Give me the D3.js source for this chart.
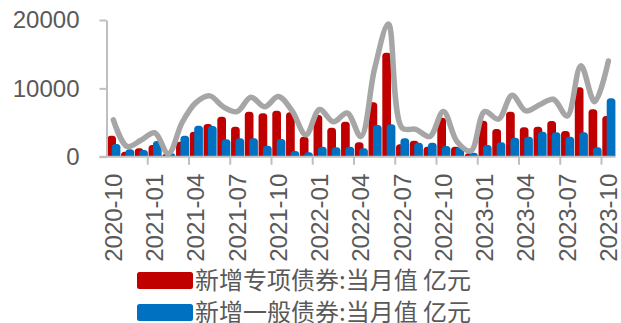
<!DOCTYPE html>
<html>
<head>
<meta charset="utf-8">
<script src="https://cdn.jsdelivr.net/npm/d3@7"></script>
<style>
    html, body { margin: 0; padding: 0; background: #fff; }
    svg { display: block; }
    text { font-family: "Liberation Sans", Arial, sans-serif; fill: #595959; }
    .legend-text { font-family: "Noto Sans CJK SC", "Noto Sans", sans-serif; }
</style>
</head>
<body>
<div id="chart"></div>
<script>
'use strict';

// months on the x axis
const MONTHS = [
    '2020-10', '2020-11', '2020-12',
    '2021-01', '2021-02', '2021-03', '2021-04', '2021-05', '2021-06',
    '2021-07', '2021-08', '2021-09', '2021-10', '2021-11', '2021-12',
    '2022-01', '2022-02', '2022-03', '2022-04', '2022-05', '2022-06',
    '2022-07', '2022-08', '2022-09', '2022-10', '2022-11', '2022-12',
    '2023-01', '2023-02', '2023-03', '2023-04', '2023-05', '2023-06',
    '2023-07', '2023-08', '2023-09', '2023-10'
];

// 新增专项债券 (red), 亿元
const SPECIAL = [
    3070, 730, 1230,
    1710, 390, 2200, 3660, 4780, 5850,
    4390, 6580, 6350, 6730, 6500, 2930,
    6100, 4240, 5120, 2100, 7960, 15220,
    1810, 2340, 1460, 5710, 1460, 490,
    5270, 4050, 6580, 4300, 4390, 5220,
    3760, 10150, 6930, 5950
];

// 新增一般债券 (blue), 亿元
const GENERAL = [
    1860, 1100, 980,
    2300, 490, 3070, 4540, 4490, 2540,
    2690, 2690, 1610, 2590, 830, 640,
    1460, 1370, 1460, 1230, 4640, 4740,
    2690, 2050, 2050, 1560, 1370, 590,
    1710, 2100, 2780, 2930, 3660, 3570,
    2930, 3570, 1370, 8540
];

// grey line (total new issuance), 亿元
const TOTAL = [
    5400, 1500, 2400,
    3500, 450, 5000, 7900, 8900, 7300,
    6600, 8700, 7300, 8800, 6700, 3200,
    6900, 5100, 6400, 2950, 12900, 19400,
    4200, 4000, 2950, 6600, 2200, 850,
    6600, 5500, 9000, 6700, 7600, 8400,
    5950, 13300, 8050, 14000
];

const Y_TICKS = [0, 10000, 20000];
const X_LABELS = MONTHS.filter((m, i) => i % 3 === 0);

const LEGEND = [
    { name: '新增专项债券:当月值 亿元', color: '#C00000' },
    { name: '新增一般债券:当月值 亿元', color: '#0070C0' }
];

const W = 621;
const H = 323;
const PLOT = { left: 106.5, right: 615.25, top: 20, bottom: 156.7 };

//#region HELPERS
// bar with rounded top corners
function roundTopBar(x, y, w, h, r) {
    r = Math.min(r, h, w / 2);
    if (h <= 0) return '';
    return `M${x},${y + h}V${y + r}Q${x},${y} ${x + r},${y}` +
        `H${x + w - r}Q${x + w},${y} ${x + w},${y + r}V${y + h}Z`;
}
//#endregion

function drawChart() {
    const svg = d3.select('#chart')
        .append('svg')
        .attr('width', W)
        .attr('height', H);

    svg.append('rect')
        .attr('width', W)
        .attr('height', H)
        .attr('fill', '#fff');

    const x = d3.scaleBand()
        .domain(MONTHS)
        .range([PLOT.left, PLOT.right])
        .padding(0);

    const y = d3.scaleLinear()
        .domain([0, 20000])
        .range([PLOT.bottom, PLOT.top]);

    const bw = x.bandwidth();
    const barW = 8.7;

    // red bars first, blue ones overlap them on the right
    svg.append('g')
        .selectAll('path')
        .data(SPECIAL)
        .enter()
        .append('path')
        .attr('d', (d, i) => roundTopBar(x(MONTHS[i]) + 0.8, y(d), barW, y(0) - y(d), 3.5))
        .attr('fill', '#C00000');

    svg.append('g')
        .selectAll('path')
        .data(GENERAL)
        .enter()
        .append('path')
        .attr('d', (d, i) => roundTopBar(x(MONTHS[i]) + 5.2, y(d), barW, y(0) - y(d), 3.5))
        .attr('fill', '#0070C0');

    // y axis
    const yAxis = svg.append('g')
        .attr('transform', `translate(${PLOT.left},0)`)
        .call(d3.axisLeft(y).tickValues(Y_TICKS).tickSize(7).tickSizeOuter(0).tickPadding(20).tickFormat(d3.format('d')));
    yAxis.select('.domain').attr('stroke', '#BFBFBF').attr('stroke-width', 2);
    yAxis.selectAll('.tick line').attr('stroke', '#BFBFBF').attr('stroke-width', 2);
    yAxis.selectAll('.tick text')
        .style('font-size', '24px')
        .attr('fill', '#595959');

    // x axis line
    svg.append('line')
        .attr('x1', PLOT.left - 7)
        .attr('x2', PLOT.right)
        .attr('y1', y(0))
        .attr('y2', y(0))
        .attr('stroke', '#BFBFBF')
        .attr('stroke-width', 2);

    // tick marks between every third month
    svg.append('g')
        .selectAll('line')
        .data(MONTHS.filter((m, i) => i > 0 && i % 3 === 0))
        .enter()
        .append('line')
        .attr('x1', d => x(d))
        .attr('x2', d => x(d))
        .attr('y1', y(0))
        .attr('y2', y(0) + 8)
        .attr('stroke', '#BFBFBF')
        .attr('stroke-width', 2);

    svg.append('g')
        .selectAll('text')
        .data(X_LABELS)
        .enter()
        .append('text')
        .attr('transform', d => `translate(${x(d) + bw / 2},${y(0) + 17}) rotate(-90)`)
        .attr('text-anchor', 'end')
        .attr('dy', '0.35em')
        .style('font-size', '24px')
        .text(d => d);

    // grey total line on top
    const line = d3.line()
        .x((d, i) => x(MONTHS[i]) + bw / 2)
        .y(d => y(d))
        .curve(d3.curveCatmullRom.alpha(0.5));

    svg.append('path')
        .datum(TOTAL)
        .attr('d', line)
        .attr('fill', 'none')
        .attr('stroke', '#A6A6A6')
        .attr('stroke-width', 5.5)
        .attr('stroke-linecap', 'round')
        .attr('stroke-linejoin', 'round');

    // legend
    const legend = svg.append('g')
        .selectAll('g')
        .data(LEGEND)
        .enter()
        .append('g')
        .attr('transform', (d, i) => `translate(137,${272 + i * 32})`);

    legend.append('rect')
        .attr('width', 56)
        .attr('height', 17)
        .attr('rx', 2.5)
        .attr('fill', d => d.color);

    legend.append('text')
        .attr('class', 'legend-text')
        .attr('x', 58)
        .attr('y', 8.5)
        .attr('dy', '0.35em')
        .style('font-size', '24px')
        .text(d => d.name);
}

drawChart();
</script>
</body>
</html>
